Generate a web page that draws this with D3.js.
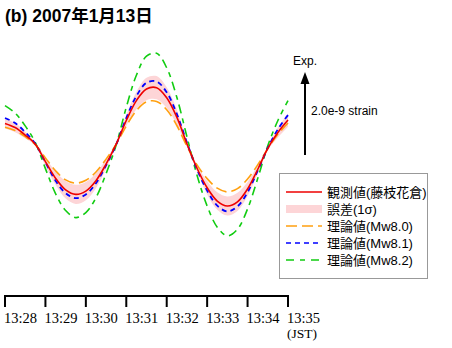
<!DOCTYPE html>
<html><head><meta charset="utf-8">
<script src="https://cdn.jsdelivr.net/npm/d3@7/dist/d3.min.js"></script>
<style>body{margin:0;background:#fff}svg{display:block}</style>
</head><body>
<script>
// time in seconds from 13:28:00 (JST), strain in units of 1e-9
const times = [0,15,30,45,60,75,90,105,120,135,150,165,180,195,210,225,240,255,270,285,300,315,330,345,360,375,390,405,420];
const observed = [0.52,0.42,0.24,0.02,-0.40,-0.80,-1.08,-1.19,-1.11,-0.86,-0.46,0.02,0.59,1.07,1.35,1.38,1.14,0.67,0.03,-0.56,-1.03,-1.35,-1.47,-1.37,-1.06,-0.59,-0.08,0.30,0.60];
const sigma = [0.12,0.11,0.08,0.04,0.10,0.16,0.21,0.23,0.22,0.18,0.12,0.04,0.13,0.21,0.27,0.28,0.25,0.18,0.08,0.08,0.16,0.21,0.23,0.22,0.17,0.10,0.05,0.12,0.16];
const mw80 = [0.43,0.35,0.20,0.01,-0.31,-0.62,-0.84,-0.92,-0.85,-0.65,-0.34,0.02,0.46,0.83,1.04,1.05,0.85,0.47,-0.03,-0.48,-0.81,-1.04,-1.13,-1.05,-0.82,-0.48,-0.09,0.26,0.53];
const mw81 = [0.65,0.53,0.31,0.03,-0.42,-0.86,-1.16,-1.28,-1.19,-0.92,-0.49,0.01,0.65,1.18,1.50,1.53,1.27,0.75,0.06,-0.59,-1.10,-1.46,-1.60,-1.48,-1.14,-0.62,-0.07,0.38,0.72];
const mw82 = [0.95,0.77,0.46,0.06,-0.57,-1.17,-1.58,-1.75,-1.63,-1.27,-0.69,0.00,0.91,1.68,2.14,2.21,1.86,1.15,0.20,-0.73,-1.47,-1.98,-2.19,-2.03,-1.54,-0.81,-0.02,0.59,1.07];
const tickSeconds = [0,60,120,180,240,300,360,420];
const tickLabels = ["13:28","13:29","13:30","13:31","13:32","13:33","13:34","13:35"];
const title = "(b) 2007年1月13日";
const scaleBarValue = 2.0;
const legendLabels = ["観測値(藤枝花倉)","誤差(1σ)","理論値(Mw8.0)","理論値(Mw8.1)","理論値(Mw8.2)"];

const W = 452, H = 348;
const svg = d3.select("body").append("svg").attr("width", W).attr("height", H);

const x = d3.scaleLinear().domain([0, 420]).range([5, 288]);
const y = d3.scaleLinear().domain([0, 2]).range([145, 62]);

const sans = "'Liberation Sans', Arial, 'Noto Sans CJK JP', sans-serif";
const serif = "'Liberation Serif', 'DejaVu Serif', serif";

svg.append("text").attr("x", 5).attr("y", 22)
  .attr("font-family", sans).attr("font-weight", "bold").attr("font-size", 17.5)
  .text(title);

const curve = d3.curveCatmullRom;
const band = d3.area().x((d,i)=>x(times[i])).y0((d,i)=>y(observed[i]-sigma[i])).y1((d,i)=>y(observed[i]+sigma[i])).curve(curve);
svg.append("path").attr("d", band(times)).attr("fill", "#fdd5d7");

const line = arr => d3.line().x((d,i)=>x(times[i])).y((d,i)=>y(arr[i])).curve(curve)(times);

const styles = [
  {data: mw82, color: "#11cc11", dash: "9,5,5,5", w: 1.6},
  {data: mw80, color: "#ffa010", dash: "11,5", w: 1.6},
  {data: mw81, color: "#0000ff", dash: "5,4", w: 1.8},
];
styles.forEach(s => {
  svg.append("path").attr("d", line(s.data)).attr("fill","none")
    .attr("stroke", s.color).attr("stroke-width", s.w).attr("stroke-dasharray", s.dash);
});
svg.append("path").attr("d", line(observed)).attr("fill","none").attr("stroke","#ee0000").attr("stroke-width",1.6);

// time axis
const axisG = svg.append("g").attr("transform", "translate(0,296)");
axisG.append("line").attr("x1", x(0)).attr("x2", x(420)).attr("stroke","#000").attr("stroke-width",2);
tickSeconds.forEach((t,i) => {
  axisG.append("line").attr("x1", x(t)).attr("x2", x(t)).attr("y1", -1).attr("y2", 11).attr("stroke","#000").attr("stroke-width",2);
  axisG.append("text").attr("x", x(t) - 1).attr("y", 27)
    .attr("font-family", serif).attr("font-size", 14.5)
    .text(tickLabels[i]);
});
axisG.append("text").attr("x", x(420) - 1).attr("y", 42)
  .attr("font-family", serif).attr("font-size", 13.5).text("(JST)");

// scale arrow
const ax = 305, aBase = 155;
const aTop = aBase - (y(0) - y(scaleBarValue));
svg.append("line").attr("x1", ax).attr("x2", ax).attr("y1", aBase).attr("y2", aTop + 10).attr("stroke","#000").attr("stroke-width",2);
svg.append("path").attr("d", `M${ax},${aTop} L${ax-4.5},${aTop+12} L${ax+4.5},${aTop+12} Z`).attr("fill","#000");
svg.append("text").attr("x", 293).attr("y", 65).attr("font-family", sans).attr("font-size", 12).text("Exp.");
svg.append("text").attr("x", 311).attr("y", 115).attr("font-family", sans).attr("font-size", 12).text(scaleBarValue.toFixed(1) + "e-9 strain");

// legend
const lg = svg.append("g");
lg.append("rect").attr("x", 279.5).attr("y", 173.5).attr("width", 148).attr("height", 105)
  .attr("fill","#fff").attr("stroke","#999").attr("stroke-width",1);
const rowsY = [192, 209, 226, 243, 260];
const legendStyles = [
  {type:"line", color:"#ee0000", dash:null},
  {type:"band", color:"#fdd5d7"},
  {type:"line", color:"#ffa010", dash:"11,5"},
  {type:"line", color:"#0000ff", dash:"5,4"},
  {type:"line", color:"#11cc11", dash:"8,6,5,6"},
];
legendLabels.forEach((lab,i) => {
  const s = legendStyles[i], yy = rowsY[i];
  if (s.type === "band") {
    lg.append("rect").attr("x", 286).attr("y", yy-4).attr("width", 36).attr("height", 8).attr("fill", s.color);
  } else {
    lg.append("line").attr("x1", 286).attr("x2", 322).attr("y1", yy).attr("y2", yy)
      .attr("stroke", s.color).attr("stroke-width", 1.6).attr("stroke-dasharray", s.dash);
  }
  lg.append("text").attr("x", 327).attr("y", yy + 4.5).attr("font-family", sans).attr("font-size", 13).text(lab);
});
</script>
</body></html>
